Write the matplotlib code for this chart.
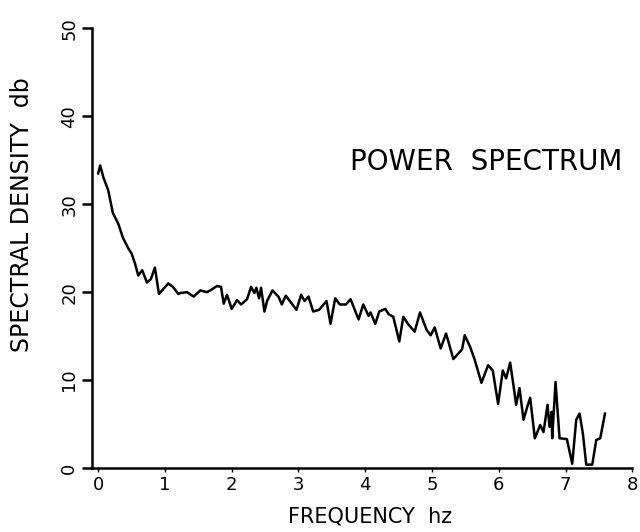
import matplotlib
matplotlib.use("Agg")
import matplotlib.pyplot as plt
import matplotlib.transforms as mtransforms

# values (frequency in hz, spectral density in db)
freq = [0.00, 0.03, 0.08, 0.15, 0.22, 0.30, 0.37, 0.45, 0.50, 0.55, 0.60, 0.66,
        0.73, 0.79, 0.85, 0.91, 0.97, 1.05, 1.12, 1.20, 1.23, 1.33, 1.43, 1.53,
        1.63, 1.70, 1.78, 1.84, 1.88, 1.93, 2.00, 2.08, 2.14, 2.23, 2.29, 2.34,
        2.37, 2.41, 2.44, 2.49, 2.53, 2.61, 2.70, 2.75, 2.81, 2.90, 2.97, 3.04,
        3.09, 3.15, 3.22, 3.31, 3.42, 3.48, 3.55, 3.62, 3.71, 3.78, 3.90, 3.97,
        4.05, 4.08, 4.15, 4.21, 4.30, 4.35, 4.42, 4.51, 4.57, 4.64, 4.74, 4.82,
        4.92, 4.98, 5.04, 5.13, 5.21, 5.32, 5.45, 5.49, 5.57, 5.64, 5.74, 5.84,
        5.91, 5.99, 6.06, 6.11, 6.17, 6.22, 6.26, 6.31, 6.37, 6.44, 6.47, 6.54,
        6.62, 6.67, 6.73, 6.76, 6.79, 6.80, 6.85, 6.91, 7.02, 7.10, 7.16, 7.21,
        7.26, 7.31, 7.40, 7.46, 7.52, 7.59]
density = [33.5, 34.4, 33.0, 31.6, 29.0, 27.8, 26.2, 25.0, 24.4, 23.3, 21.9, 22.5,
           21.1, 21.5, 22.8, 19.8, 20.3, 21.0, 20.6, 19.8, 19.9, 20.0, 19.5, 20.2,
           20.0, 20.3, 20.7, 20.6, 18.7, 19.7, 18.1, 19.1, 18.6, 19.2, 20.6, 19.9,
           20.5, 19.3, 20.5, 17.8, 19.0, 20.2, 19.5, 18.6, 19.6, 18.7, 18.0, 19.7,
           19.0, 19.5, 17.8, 18.0, 19.0, 16.4, 19.3, 18.6, 18.6, 19.2, 16.9, 18.6,
           17.3, 17.7, 16.4, 17.8, 18.1, 17.5, 17.2, 14.4, 17.2, 16.4, 15.5, 17.7,
           15.7, 15.1, 16.0, 13.6, 15.3, 12.4, 13.5, 15.1, 13.8, 12.3, 9.7, 11.7,
           11.1, 7.3, 11.1, 10.2, 12.0, 9.4, 7.2, 9.1, 5.5, 7.3, 8.0, 3.4,
           4.9, 4.1, 7.2, 4.7, 6.4, 3.4, 9.8, 3.4, 3.3, 0.5, 5.5, 6.2,
           3.9, 0.4, 0.4, 3.2, 3.4, 6.2]

x_ticks = [0, 1, 2, 3, 4, 5, 6, 7, 8]
y_ticks = [0, 10, 20, 30, 40, 50]

plt.rcParams['font.family'] = ['DejaVu Sans']

fig = plt.figure(figsize=(6.4, 5.32), dpi=100)
ax = fig.add_axes([0.144, 0.120, 0.844, 0.827])

ax.plot(freq, density, color='black', linewidth=1.8)

ax.set_xlim(-0.09, 8.0)
ax.set_ylim(0, 50)
ax.set_xticks(x_ticks)
ax.set_yticks(y_ticks)
ax.set_xticklabels([str(t) for t in x_ticks], fontsize=13)
ax.set_yticklabels([str(t) for t in y_ticks], fontsize=13, rotation=90, va='center')

# y tick labels sit a little above their ticks in the original
shift = mtransforms.ScaledTranslation(0, 0.09, fig.dpi_scale_trans)
for lbl in ax.get_yticklabels():
    lbl.set_transform(lbl.get_transform() + shift)

ax.spines['top'].set_visible(False)
ax.spines['right'].set_visible(False)
ax.spines['left'].set_linewidth(1.8)
ax.spines['bottom'].set_linewidth(1.8)
ax.tick_params(axis='y', direction='out', length=7, width=1.8, pad=3)
ax.tick_params(axis='x', direction='out', length=3, width=1.0, pad=3)

fig.text(0.578, 0.030, 'FREQUENCY  hz', fontsize=15, ha='center', va='center')
fig.text(0.034, 0.596, 'SPECTRAL DENSITY  db', fontsize=17, rotation=90,
         ha='center', va='center')
fig.text(0.760, 0.695, 'POWER  SPECTRUM', fontsize=20, ha='center', va='center')

fig.savefig('out.png', dpi=100, facecolor='white')
